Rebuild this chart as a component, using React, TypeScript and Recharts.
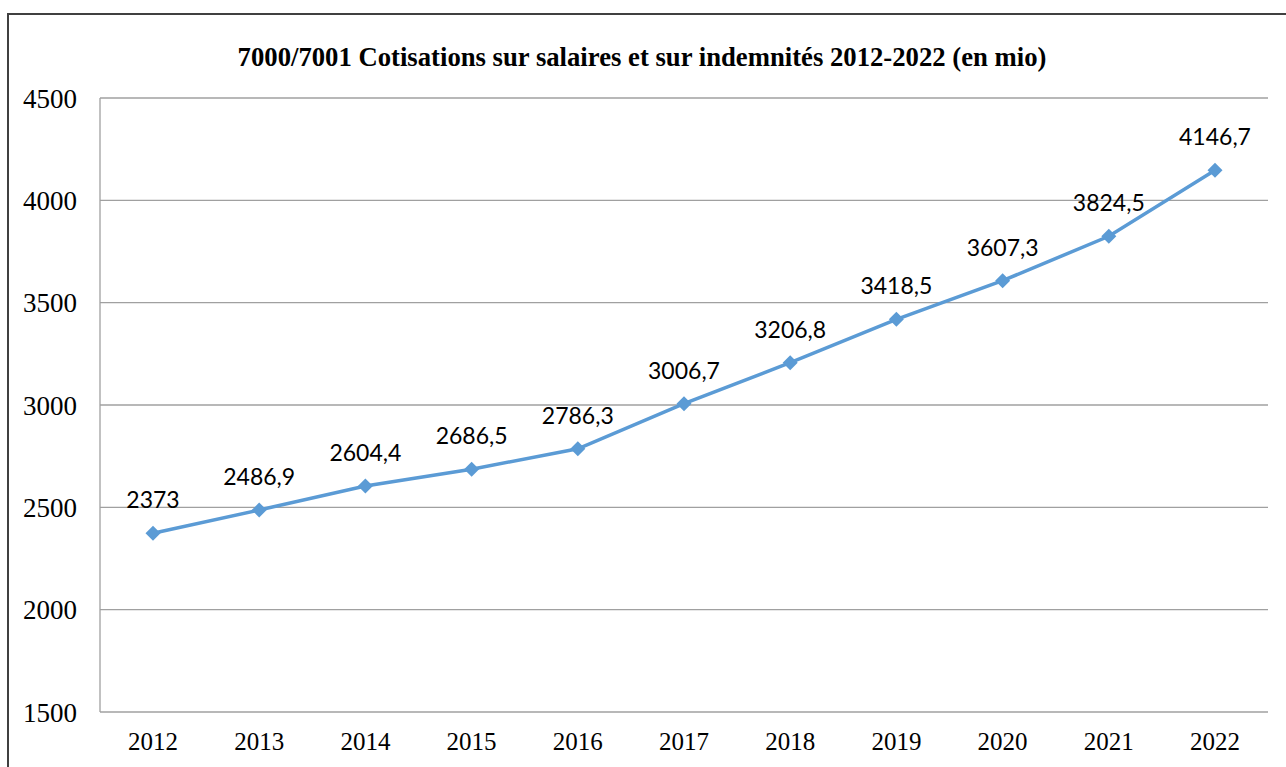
import React from "react";
import { LineChart, Line, XAxis, YAxis, CartesianGrid, LabelList } from "recharts";

const years = ["2012", "2013", "2014", "2015", "2016", "2017", "2018", "2019", "2020", "2021", "2022"];
const cotisations = [2373, 2486.9, 2604.4, 2686.5, 2786.3, 3006.7, 3206.8, 3418.5, 3607.3, 3824.5, 4146.7];
const yTicks = [1500, 2000, 2500, 3000, 3500, 4000, 4500];

const TITLE = "7000/7001 Cotisations sur salaires et sur indemnités 2012-2022 (en mio)";
const LINE_COLOR = "#5B9BD5";
const GRID_COLOR = "#a0a0a0";
const SERIF = "'Liberation Serif', 'Times New Roman', serif";

const data = years.map((year, i) => ({ year, value: cotisations[i] }));

function Diamond(props: any) {
  const { cx, cy } = props;
  if (cx == null || cy == null) return null;
  const r = 7.5;
  return (
    <polygon
      points={`${cx},${cy - r} ${cx + r},${cy} ${cx},${cy + r} ${cx - r},${cy}`}
      fill={LINE_COLOR}
      stroke="none"
    />
  );
}

export default function App() {
  return (
    <div
      style={{
        position: "absolute",
        left: 0,
        top: 0,
        width: 1286,
        height: 767,
        overflow: "hidden",
        background: "#fff",
      }}
    >
      <div
        style={{
          position: "absolute",
          left: 7,
          top: 13,
          width: 1320,
          height: 800,
          border: "2px solid #404040",
          boxSizing: "border-box",
        }}
      />
      <div
        style={{
          position: "absolute",
          left: 0,
          top: 40,
          width: 1284,
          textAlign: "center",
          fontFamily: SERIF,
          fontWeight: "bold",
          fontSize: 26.7,
          lineHeight: "34px",
          color: "#000",
        }}
      >
        {TITLE}
      </div>
      <div style={{ position: "absolute", left: 0, top: 0 }}>
        <LineChart
          width={1286}
          height={767}
          data={data}
          margin={{ top: 98, right: 18, bottom: 0, left: 0 }}
        >
          <CartesianGrid vertical={false} stroke={GRID_COLOR} strokeWidth={1.3} />
          <XAxis
            dataKey="year"
            height={55}
            padding={{ left: 53, right: 53 }}
            axisLine={false}
            tickLine={false}
            tickSize={0}
            tickMargin={20}
            interval={0}
            tick={{ fontFamily: SERIF, fontSize: 25, fill: "#000" }}
          />
          <YAxis
            width={100}
            domain={[1500, 4500]}
            ticks={yTicks}
            interval={0}
            axisLine={{ stroke: GRID_COLOR, strokeWidth: 1.3 }}
            tickLine={false}
            tickSize={0}
            tickMargin={23}
            tick={{ fontFamily: SERIF, fontSize: 27, fill: "#000" }}
          />
          <Line
            dataKey="value"
            stroke={LINE_COLOR}
            strokeWidth={3.5}
            dot={<Diamond />}
            activeDot={false}
            isAnimationActive={false}
          >
            <LabelList
              dataKey="value"
              position="top"
              offset={25}
              formatter={(v: any) => String(v).replace(".", ",")}
              style={{ fontFamily: "Lato, 'Open Sans', sans-serif", fontSize: 23, fill: "#000" }}
            />
          </Line>
        </LineChart>
      </div>
    </div>
  );
}
